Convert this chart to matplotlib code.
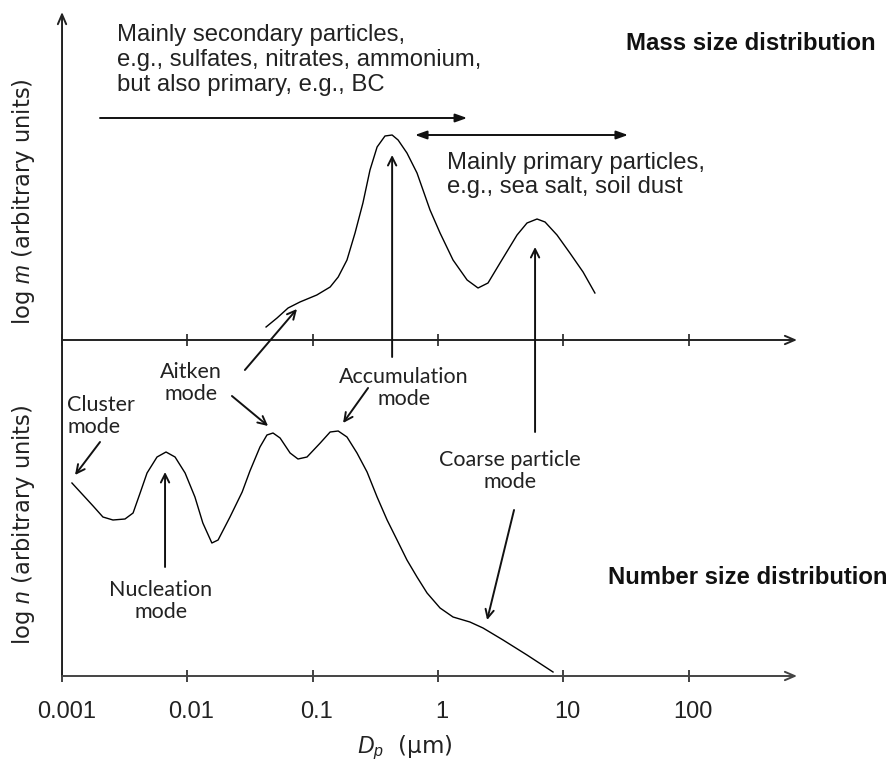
import numpy as np
import matplotlib
matplotlib.use("Agg")
import matplotlib.pyplot as plt

plt.rcParams['mathtext.fontset'] = 'custom'
plt.rcParams['mathtext.rm'] = 'Liberation Sans'
plt.rcParams['mathtext.it'] = 'Liberation Sans:italic'

# Mass size distribution (diameter in um, height above its own baseline)
mass_d = [0.0425, 0.0520, 0.0637, 0.0792, 0.108, 0.138, 0.160, 0.188, 0.218,
          0.252, 0.287, 0.327, 0.378, 0.431, 0.481, 0.566, 0.681, 0.865, 1.04,
          1.32, 1.71, 2.09, 2.51, 3.13, 4.28, 5.14, 6.18, 7.16, 8.92, 11.3,
          14.4, 17.9]
mass_h = [13, 22, 32, 38, 45, 53, 63, 80, 107, 137, 170, 193, 204, 205, 200,
          187, 167, 130, 107, 80, 60, 52, 57, 77, 105, 117, 121, 118, 105, 87,
          68, 47]

# Number size distribution
num_d = [0.00120, 0.00147, 0.00177, 0.00212, 0.00255, 0.00318, 0.00369,
         0.00420, 0.00477, 0.00573, 0.00676, 0.00798, 0.00960, 0.0115, 0.0133,
         0.0157, 0.0176, 0.0219, 0.0274, 0.0316, 0.0380, 0.0432, 0.0483,
         0.0550, 0.0661, 0.0764, 0.0902, 0.115, 0.138, 0.160, 0.188, 0.226,
         0.272, 0.327, 0.393, 0.472, 0.566, 0.681, 0.819, 1.04, 1.32, 1.80,
         2.29, 3.31, 5.14, 8.29]
num_h = [193, 181, 170, 159, 156, 157, 163, 183, 203, 219, 224, 219, 203, 179,
         153, 133, 136, 159, 184, 205, 229, 241, 243, 238, 223, 217, 219, 233,
         244, 245, 239, 223, 204, 179, 156, 136, 116, 99, 83, 68, 59, 54, 48,
         36, 21, 4]

tick_values = [0.001, 0.01, 0.1, 1, 10, 100]
tick_labels = ['0.001', '0.01', '0.1', '1', '10', '100']

MASS_BASE = 336
X_END = 735
Y_TOP = 664

ARIAL = 'Liberation Sans'
CALIBRI = 'Lato'

fig = plt.figure(figsize=(8.89, 7.65), dpi=100)
ax = fig.add_axes([0, 0, 1, 1])
ax.set_xscale('log')
ax.set_xlim(10 ** -3.495, 10 ** 3.600)
ax.set_ylim(-89, 676)
ax.axis('off')

# axes with arrows
axis_kw = dict(arrowstyle='->,head_length=0.7,head_width=0.3', lw=1.4, color='#222222',
               shrinkA=0, shrinkB=0)
ax.annotate('', xy=(0.001, Y_TOP), xytext=(0.001, 0), arrowprops=axis_kw)
ax.annotate('', xy=(X_END, MASS_BASE), xytext=(0.001, MASS_BASE), arrowprops=axis_kw)
ax.annotate('', xy=(X_END, 0), xytext=(0.001, 0), arrowprops=dict(axis_kw, color='#444444'))
for base in (0, MASS_BASE):
    ax.vlines(tick_values, base - 6, base + 6, color='#222222', lw=1.2)
for v, lab in zip(tick_values, tick_labels):
    ax.text(v * 1.08, -36, lab, ha='center', va='center', fontsize=17, family=ARIAL,
            color='#222222')

# curves
ax.plot(mass_d, np.array(mass_h) + MASS_BASE, color='black', lw=1.0)
ax.plot(num_d, num_h, color='black', lw=1.0)

# axis labels
ax.text(0.546, -72, '$D_p$  (µm)', ha='center', va='center', fontsize=16.5, color='#222222')
ax.text(0.000489, 474, 'log $m$ (arbitrary units)', rotation=90, ha='center',
        va='center', fontsize=16.3, color='#222222')
ax.text(0.000489, 151, 'log $n$ (arbitrary units)', rotation=90, ha='center',
        va='center', fontsize=16.3, color='#222222')

# titles and descriptive text
ax.text(316, 633, 'Mass size distribution', ha='center', va='center', fontsize=17.2,
        family=ARIAL, weight='bold', color='#111111')
ax.text(299, 98, 'Number size distribution', ha='center', va='center', fontsize=17.2,
        family=ARIAL, weight='bold', color='#111111')
ax.text(0.00275, 616, 'Mainly secondary particles,\ne.g., sulfates, nitrates, ammonium,\n'
        'but also primary, e.g., BC', ha='left', va='center', fontsize=17.2,
        family=ARIAL, color='#222222', linespacing=1.15)
ax.text(1.18, 501, 'Mainly primary particles,\ne.g., sea salt, soil dust', ha='left',
        va='center', fontsize=17.2, family=ARIAL, color='#222222', linespacing=1.15)

range_kw = dict(lw=1.4, color='#111111', shrinkA=0, shrinkB=0)
ax.annotate('', xy=(1.71, 558), xytext=(0.00201, 558),
            arrowprops=dict(range_kw, arrowstyle='-|>,head_length=0.7,head_width=0.25'))
ax.annotate('', xy=(32.9, 541), xytext=(0.656, 541),
            arrowprops=dict(range_kw, arrowstyle='<|-|>,head_length=0.7,head_width=0.25'))

# mode labels
mode_kw = dict(arrowstyle='->,head_length=0.6,head_width=0.3', lw=1.4, color='#111111',
               shrinkA=0, shrinkB=0)
pointers = [
    ((0.431, 521), (0.431, 319)),
    ((5.96, 429), (5.96, 244)),
    ((0.0750, 367), (0.0288, 306)),
    ((0.0441, 250), (0.0227, 280)),
    ((0.175, 253), (0.277, 288)),
    ((0.00127, 201), (0.00201, 234)),
    ((0.00664, 204), (0.00664, 109)),
    ((2.47, 56), (4.05, 166)),
]
for head, tail in pointers:
    ax.annotate('', xy=head, xytext=tail, arrowprops=mode_kw)

label_kw = dict(fontsize=15.5, family=CALIBRI, color='#222222', va='center',
                linespacing=1.15)
ax.text(0.00110, 260, 'Cluster\nmode', ha='left', **label_kw)
ax.text(0.0107, 293, 'Aitken\nmode', ha='center', **label_kw)
ax.text(0.536, 288, 'Accumulation\nmode', ha='center', **label_kw)
ax.text(0.00617, 75, 'Nucleation\nmode', ha='center', **label_kw)
ax.text(3.76, 205, 'Coarse particle\nmode', ha='center', **label_kw)

fig.savefig('out.png', dpi=100)
